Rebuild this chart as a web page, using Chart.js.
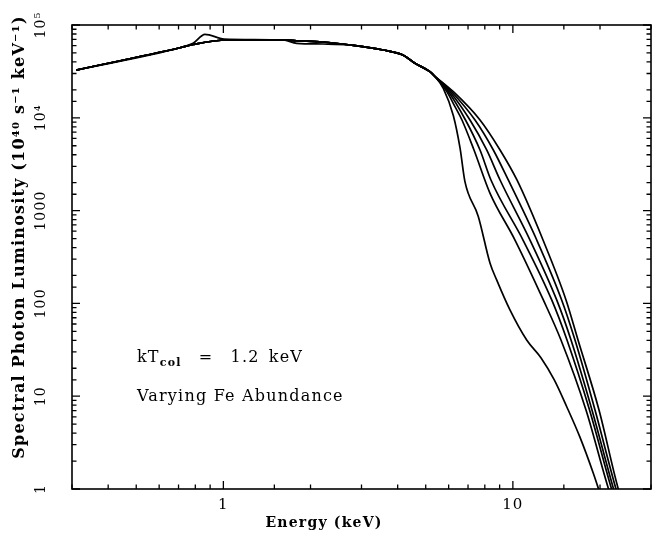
<!DOCTYPE html>
<html>
<head>
<meta charset="utf-8">
<script src="https://cdn.jsdelivr.net/npm/chart.js@4.4.0/dist/chart.umd.min.js"></script>
<style>
html,body{margin:0;padding:0;background:#ffffff;}
#wrap{width:661px;height:538px;}
</style>
</head>
<body>
<div id="wrap"><canvas id="c" width="661" height="538"></canvas></div>
<script>
// ---- data (energy in keV, luminosity in 1e40 s^-1 keV^-1) ----
const sharedEnergy = [0.31, 0.708, 0.786, 1.03, 1.61, 1.79, 2.21, 2.74, 3.56, 4.17, 4.59, 5.17, 5.32];
const sharedLum    = [32700, 56900, 61700, 68900, 68900, 67600, 65600, 60900, 53800, 47500, 38700, 31400, 28900];

const energyA = [0.31, 0.708, 0.786, 0.864, 1.005, 1.61, 1.79, 2.21, 2.74, 3.56, 4.17, 4.59, 5.17, 5.32, 5.75, 6.23, 6.57, 6.83, 7.59, 8.34, 8.79, 9.77, 11.16, 12.5, 13.9, 15.35, 17.06, 18.96, 19.73, 20.1];
const lumA    = [32700, 56900, 63500, 79400, 70600, 68900, 63500, 62400, 60900, 53800, 47500, 38700, 31400, 28900, 20800, 10500, 4700, 2050, 870, 271, 179, 85, 40.3, 26, 15, 7.7, 3.6, 1.48, 1.02, 0.85];

const tailEnergyB = [5.92, 6.31, 6.67, 7.34, 8.34, 10.17, 12.74, 14.66, 17.89, 21.40, 21.75];
const tailLumB    = [19100, 13200, 9470, 4500, 1536, 482, 109, 40.3, 7.10, 1.0, 0.86];

const tailEnergyC = [5.99, 6.86, 7.70, 8.40, 10.84, 13.62, 15.38, 18.40, 21.92, 22.25];
const tailLumC    = [19100, 9470, 4500, 2137, 482, 109, 40.3, 7.10, 1.0, 0.86];

const tailEnergyD = [6.06, 7.11, 8.12, 9.03, 11.46, 14.17, 15.88, 18.76, 22.27, 22.6];
const tailLumD    = [19100, 9470, 4500, 2137, 482, 109, 40.3, 7.10, 1.0, 0.86];

const tailEnergyE = [6.14, 7.40, 8.56, 9.64, 12.09, 14.74, 16.39, 19.22, 22.71, 23.05];
const tailLumE    = [19100, 9470, 4500, 2137, 482, 109, 40.3, 7.10, 1.0, 0.86];

const tailEnergyF = [6.23, 7.70, 9.03, 10.33, 12.71, 15.26, 16.79, 19.84, 23.13, 23.5];
const tailLumF    = [19100, 9470, 4500, 2137, 482, 109, 40.3, 7.10, 1.0, 0.86];

const xTickValues = [1, 10];
const xTickLabels = ['1', '10'];
const yTickValues = [1, 10, 100, 1000, 10000, 100000];
const yTickLabels = ['1', '10', '100', '1000', '10\u2074', '10\u2075'];

const xAxisTitle = 'Energy (keV)';
const yAxisTitle = 'Spectral Photon Luminosity (10\u2074\u2070 s\u207B\u00B9 keV\u207B\u00B9)';
const noteLine1 = ['kT', 'col', '\u2003=\u20031.2\u2002keV'];
const noteLine2 = 'Varying Fe Abundance';

// ---- build datasets ----
function pts(es, ls) { return es.map((e, i) => ({x: e, y: ls[i]})); }
const curves = [
  pts(energyA, lumA),
  pts(sharedEnergy.concat(tailEnergyB), sharedLum.concat(tailLumB)),
  pts(sharedEnergy.concat(tailEnergyC), sharedLum.concat(tailLumC)),
  pts(sharedEnergy.concat(tailEnergyD), sharedLum.concat(tailLumD)),
  pts(sharedEnergy.concat(tailEnergyE), sharedLum.concat(tailLumE)),
  pts(sharedEnergy.concat(tailEnergyF), sharedLum.concat(tailLumF))
];

function labelFor(v, vals, labs) {
  for (let i = 0; i < vals.length; i++) {
    if (Math.abs(v - vals[i]) / vals[i] < 1e-6) return labs[i];
  }
  return '';
}
function isDecade(v) {
  const l = Math.log10(v);
  return Math.abs(l - Math.round(l)) < 1e-6;
}

const FONT = '"DejaVu Serif", serif';
const SPACING = '1.2px';

const framePlugin = {
  id: 'frameTicks',
  beforeDraw(chart) {
    chart.ctx.letterSpacing = SPACING;
  },
  afterDraw(chart) {
    const {ctx, chartArea: a, scales: {x, y}} = chart;
    ctx.save();
    ctx.strokeStyle = '#000';
    ctx.lineWidth = 1.6;
    ctx.strokeRect(a.left, a.top, a.right - a.left, a.bottom - a.top);
    ctx.lineWidth = 1.3;
    ctx.beginPath();
    x.ticks.forEach(t => {
      const px = x.getPixelForValue(t.value);
      if (px < a.left - 0.5 || px > a.right + 0.5) return;
      const len = isDecade(t.value) ? 8 : 4.5;
      ctx.moveTo(px, a.bottom); ctx.lineTo(px, a.bottom - len);
      ctx.moveTo(px, a.top); ctx.lineTo(px, a.top + len);
    });
    y.ticks.forEach(t => {
      const py = y.getPixelForValue(t.value);
      if (py < a.top - 0.5 || py > a.bottom + 0.5) return;
      const len = isDecade(t.value) ? 8 : 4.5;
      ctx.moveTo(a.left, py); ctx.lineTo(a.left + len, py);
      ctx.moveTo(a.right, py); ctx.lineTo(a.right - len, py);
    });
    ctx.stroke();

    ctx.letterSpacing = SPACING;
    ctx.fillStyle = '#000';

    // axis titles
    ctx.textAlign = 'center';
    ctx.textBaseline = 'middle';
    ctx.font = 'bold 14px ' + FONT;
    ctx.fillText(xAxisTitle, 324, 523);
    ctx.save();
    ctx.translate(20, 237);
    ctx.rotate(-Math.PI / 2);
    ctx.font = 'bold 16px ' + FONT;
    ctx.fillText(yAxisTitle, 0, 0);
    ctx.restore();

    // annotations
    ctx.textBaseline = 'middle';
    ctx.textAlign = 'left';
    const ax = x.getPixelForValue(0.503);
    const ay1 = y.getPixelForValue(26);
    const ay2 = y.getPixelForValue(9.8);
    ctx.font = '16px ' + FONT;
    ctx.fillText(noteLine1[0], ax, ay1);
    let cx = ax + ctx.measureText(noteLine1[0]).width;
    ctx.font = 'bold 11px ' + FONT;
    ctx.fillText(noteLine1[1], cx, ay1 + 5);
    cx += ctx.measureText(noteLine1[1]).width;
    ctx.font = '16px ' + FONT;
    ctx.fillText(noteLine1[2], cx, ay1);
    ctx.fillText(noteLine2, ax, ay2);
    ctx.restore();
  }
};

Chart.defaults.font.family = FONT;
Chart.defaults.color = '#000';

new Chart(document.getElementById('c'), {
  type: 'line',
  data: {
    datasets: curves.map(c => ({
      data: c,
      borderColor: '#000',
      borderWidth: 1.7,
      pointRadius: 0,
      fill: false,
      cubicInterpolationMode: 'monotone',
      clip: 0
    }))
  },
  options: {
    responsive: false,
    animation: false,
    devicePixelRatio: 1,
    layout: {padding: {left: 0, top: 25, right: 10, bottom: 0}},
    plugins: {legend: {display: false}, tooltip: {enabled: false}},
    scales: {
      x: {
        type: 'logarithmic',
        min: 0.3,
        max: 30,
        grid: {display: false, drawTicks: false},
        border: {display: false},
        ticks: {
          autoSkip: false,
          maxRotation: 0,
          minRotation: 0,
          padding: 7,
          font: {size: 15},
          callback: (v) => labelFor(v, xTickValues, xTickLabels)
        },
        title: {display: false, text: xAxisTitle},
        afterFit: (s) => { s.height = 49; }
      },
      y: {
        type: 'logarithmic',
        min: 1,
        max: 100000,
        grid: {display: false, drawTicks: false},
        border: {display: false},
        ticks: {
          autoSkip: false,
          minRotation: 90,
          maxRotation: 90,
          crossAlign: 'center',
          padding: 13,
          font: {size: 14},
          callback: (v) => labelFor(v, yTickValues, yTickLabels)
        },
        title: {display: false, text: yAxisTitle},
        afterFit: (s) => { s.width = 72; }
      }
    }
  },
  plugins: [framePlugin]
});
</script>
</body>
</html>
